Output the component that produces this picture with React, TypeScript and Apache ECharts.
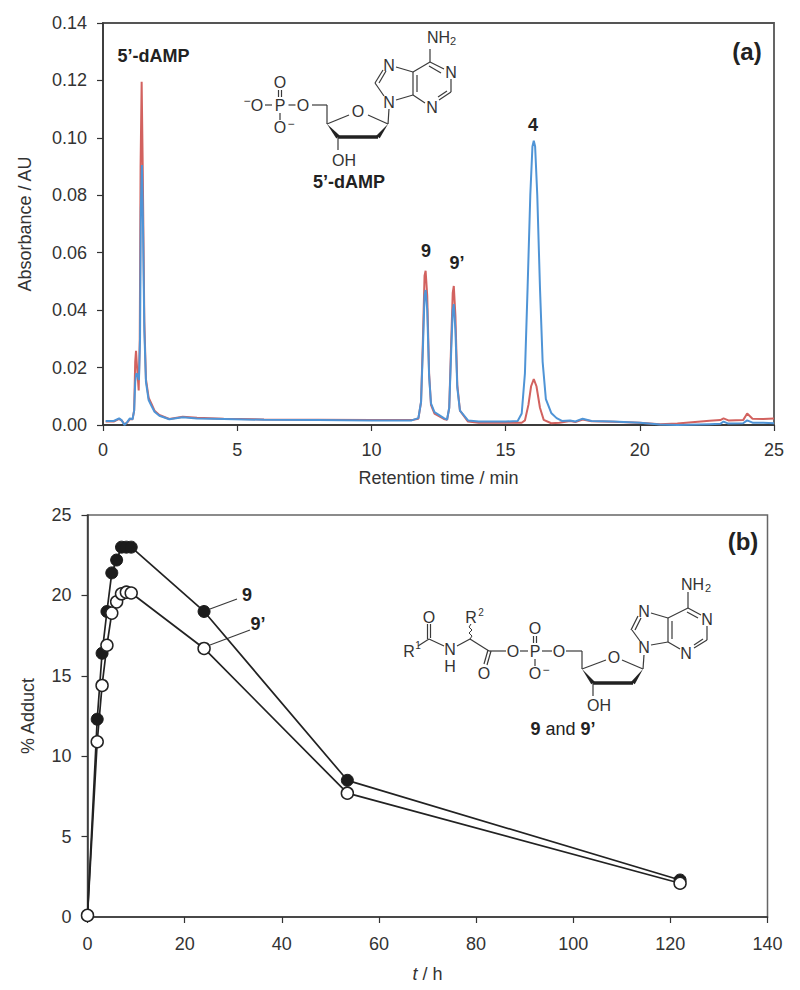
import React, { useEffect, useRef } from "react";
import * as echarts from "echarts";

const FONT = "Liberation Sans";
const INK = "#333333";

const redTrace = [
  [0.1,0.0012],[0.4,0.0012],[0.6,0.0021],[0.7,0.0015],[0.8,0.0002],[0.9,0.0008],[1.0,0.002],[1.1,0.002],[1.16,0.005],[1.2,0.022],[1.23,0.0258],[1.27,0.02],[1.33,0.012],[1.37,0.03],[1.4,0.09],[1.44,0.1195],[1.48,0.09],[1.54,0.036],[1.6,0.016],[1.7,0.0095],[1.8,0.0075],[1.92,0.005],[2.1,0.0035],[2.47,0.0021],[2.97,0.0029],[3.5,0.0025],[4.5,0.0022],[6,0.0019],[8,0.0018],[10,0.0017],[11.5,0.0017],[11.75,0.0022],[11.85,0.008],[11.92,0.03],[11.98,0.052],[12.02,0.0537],[12.08,0.045],[12.15,0.018],[12.22,0.007],[12.35,0.004],[12.7,0.0021],[12.82,0.0018],[12.9,0.006],[12.97,0.028],[13.03,0.046],[13.07,0.0484],[13.13,0.038],[13.2,0.014],[13.3,0.005],[13.6,0.0012],[14,0.0008],[15,0.0008],[15.6,0.0008],[15.72,0.0016],[15.85,0.007],[15.95,0.0135],[16.05,0.016],[16.15,0.0135],[16.28,0.006],[16.42,0.0018],[16.7,0.0006],[17,0.0008],[17.4,0.0014],[17.6,0.001],[17.87,0.0019],[18.2,0.0013],[19,0.0011],[20,0.0008],[20.75,0.0003],[21.4,0.0005],[22.6,0.0015],[23,0.0017],[23.12,0.0023],[23.3,0.0016],[23.85,0.0017],[24,0.004],[24.2,0.0022],[24.6,0.0021],[25,0.0023],
];

const blueTrace = [
  [0.1,0.0014],[0.4,0.0014],[0.6,0.0023],[0.7,0.0016],[0.8,0],[0.9,0.001],[1.0,0.0023],[1.1,0.002],[1.16,0.005],[1.2,0.015],[1.24,0.018],[1.29,0.0175],[1.34,0.0157],[1.38,0.03],[1.41,0.075],[1.45,0.0905],[1.49,0.07],[1.54,0.033],[1.6,0.015],[1.7,0.0087],[1.8,0.0068],[1.92,0.0046],[2.1,0.0032],[2.47,0.002],[2.97,0.0027],[3.5,0.0023],[4.5,0.0021],[6,0.0018],[8,0.0017],[10,0.0016],[11.5,0.0016],[11.75,0.0024],[11.85,0.008],[11.92,0.027],[11.98,0.045],[12.02,0.047],[12.08,0.04],[12.15,0.017],[12.22,0.0075],[12.35,0.0045],[12.7,0.0024],[12.82,0.0019],[12.9,0.006],[12.97,0.025],[13.03,0.04],[13.07,0.0421],[13.13,0.033],[13.2,0.013],[13.3,0.005],[13.6,0.0016],[14,0.0012],[15,0.0012],[15.45,0.0014],[15.6,0.004],[15.72,0.018],[15.82,0.048],[15.92,0.08],[16.0,0.097],[16.05,0.099],[16.1,0.097],[16.18,0.08],[16.28,0.048],[16.38,0.022],[16.5,0.009],[16.7,0.0042],[16.9,0.0024],[17.1,0.0014],[17.4,0.0016],[17.6,0.0012],[17.87,0.0022],[18.2,0.0014],[19,0.0012],[20,0.0008],[20.75,0.0002],[21.4,0],[22.6,0.0003],[23,0.0004],[23.12,0.0012],[23.3,0.0005],[23.85,0.0006],[24,0.0016],[24.2,0.0008],[24.6,0.0008],[25,0.0006],
];

const hours = [0, 2, 3, 4, 5, 6, 7, 8, 9, 24, 53.5, 122];
const adduct9 = [0.1, 12.3, 16.4, 19.0, 21.4, 22.2, 23.0, 23.0, 23.0, 19.0, 8.5, 2.3];
const adduct9p = [0.1, 10.9, 14.4, 16.9, 18.9, 19.6, 20.1, 20.2, 20.15, 16.7, 7.7, 2.1];

const zip = (xs: number[], ys: number[]) => xs.map((x, i) => [x, ys[i]]);

const bond = (x1: number, y1: number, x2: number, y2: number, w = 1.2, stroke = "#3a3a3a") => ({
  type: "line", silent: true, shape: { x1, y1, x2, y2 }, style: { stroke, lineWidth: w },
});
const label = (x: number, y: number, text: string, fontSize = 16, fontWeight = "normal", align = "center", fill = INK) => ({
  type: "text", silent: true, x, y,
  style: { text, fontSize, fontWeight, fontFamily: FONT, fill, textAlign: align, textVerticalAlign: "middle" },
});
const wedge = (a: number[], b: number[], half = 2.2) => {
  const dx = b[0] - a[0], dy = b[1] - a[1], l = Math.hypot(dx, dy);
  const nx = (-dy / l) * half, ny = (dx / l) * half;
  return {
    type: "polygon", silent: true,
    shape: { points: [a, [b[0] + nx, b[1] + ny], [b[0] - nx, b[1] - ny]] },
    style: { fill: "#222222" },
  };
};

const moleculeA = [
  label(257, 105, "O"), label(247, 101, "−", 12), label(280, 105, "P"), label(303, 105, "O"),
  label(280, 82, "O"), label(280, 127, "O"), label(291, 124, "−", 12),
  bond(265, 105, 272, 105), bond(288.5, 105, 295.5, 105), bond(278.5, 90, 278.5, 97), bond(281.5, 90, 281.5, 97), bond(280, 113, 280, 120),
  bond(312, 105, 327, 105), bond(327, 105, 327, 124), bond(327, 124, 349, 115), bond(368, 115, 388, 124),
  label(358, 111, "O"),
  wedge([327, 124], [338, 137]), bond(338, 137, 378, 137, 3.6, "#222222"), wedge([388, 124], [378, 137]),
  bond(338, 137, 338, 150), label(344, 160, "OH"),
  label(349, 182, "5’-dAMP", 18, "bold", "center", "#222222"),
  bond(388, 124, 389, 109), label(389, 102, "N"), label(389, 65, "N"), label(451, 72, "N"), label(432, 107, "N"),
  label(438.5, 37, "NH"), label(453, 41, "2", 11),
  bond(430, 49, 430, 62), bond(430, 62, 413, 72), bond(430, 62, 444, 69), bond(429, 66, 441, 73),
  bond(451, 79, 451, 92), bond(451, 92, 439, 100), bond(447, 91, 438, 97),
  bond(425, 103, 413, 95), bond(413, 95, 413, 72), bond(417, 92, 417, 75),
  bond(413, 72, 396, 67), bond(383, 70, 375, 83), bond(386, 71, 379, 83), bond(375, 83, 384, 96), bond(396, 100, 413, 95),
];

const moleculeB = [
  label(409, 651, "R"), label(418, 645, "1", 10), label(429, 617, "O"),
  bond(427.5, 624, 427.5, 639), bond(430.5, 624, 430.5, 638), bond(418, 646, 429, 639), bond(429, 639, 444, 646),
  label(450, 649, "N"), label(450, 666, "H"), bond(457, 646, 470, 639),
  { type: "polyline", silent: true, shape: { points: [[470, 639], [472, 636], [469, 633], [472, 630], [469, 627], [471, 624]] }, style: { stroke: "#3a3a3a", lineWidth: 1, fill: "none" } },
  label(471, 617, "R"), label(481, 612, "2", 10), bond(470, 639, 489, 651),
  bond(491, 651, 487, 665), bond(488, 650, 484, 664), label(484, 673, "O"),
  bond(489, 651, 506, 651), label(513, 651, "O"), bond(520, 651, 528, 651), label(535, 651, "P"),
  bond(533.5, 636, 533.5, 643), bond(536.5, 636, 536.5, 643), label(535, 628, "O"), bond(535, 659, 535, 666), label(535, 673, "O"), label(546, 670, "−", 12),
  bond(542, 651, 552, 651), label(559, 651, "O"), bond(566, 651, 582, 651), bond(582, 651, 582, 669),
  bond(582, 669, 606, 660), label(614, 657, "O"), bond(622, 660, 643, 669),
  wedge([582, 669], [593, 683]), bond(593, 683, 633, 683, 3.6, "#222222"), wedge([643, 669], [633, 683]),
  bond(593, 683, 593, 696), label(599, 705, "OH"),
  bond(643, 669, 644, 655), label(644, 647, "N"), label(644, 611, "N"), label(707, 619, "N"), label(686, 653, "N"),
  label(692.5, 584, "NH"), label(708, 588, "2", 11),
  bond(688, 592, 688, 608), bond(688, 608, 668, 618), bond(688, 608, 701, 615), bond(687, 612, 698, 618),
  bond(707, 626, 707, 640), bond(707, 640, 694, 648), bond(703, 639, 694, 645),
  bond(680, 649, 668, 642), bond(668, 642, 668, 618), bond(672, 639, 672, 621),
  bond(668, 618, 651, 613), bond(638, 616, 631, 630), bond(641, 618, 635, 630), bond(632, 630, 640, 641), bond(651, 645, 668, 642),
];

const annotations = [
  label(153.5, 56, "5’-dAMP", 18, "bold", "center", "#222222"),
  label(747, 51, "(a)", 24, "bold", "center", "#222222"),
  label(426, 251, "9", 18, "bold", "center", "#222222"),
  label(457, 263, "9’", 18, "bold", "center", "#222222"),
  label(533, 125, "4", 18, "bold", "center", "#222222"),
  label(743, 541, "(b)", 24, "bold", "center", "#222222"),
  label(247, 595, "9", 18, "bold", "center", "#222222"),
  label(258, 624, "9’", 18, "bold", "center", "#222222"),
  bond(210, 609, 237, 599, 1.2),
  bond(210, 645, 250, 630, 1.2),
  {
    type: "text", silent: true, x: 563, y: 729,
    style: {
      text: "{b|9} {n|and} {b|9’}", textAlign: "center", textVerticalAlign: "middle", fontFamily: FONT, fontSize: 18, fill: "#222222",
      rich: {
        b: { fontWeight: "bold", fontSize: 18, fontFamily: FONT, fill: "#222222" },
        n: { fontSize: 18, fontFamily: FONT, fill: "#222222" },
      },
    },
  },
];

const axisCommon = {
  axisLine: { show: true, onZero: false, lineStyle: { color: "#333333", width: 1.5 } },
  axisTick: { show: true, length: 6, lineStyle: { color: "#333333", width: 1.2 } },
  axisLabel: { color: INK, fontSize: 18, fontFamily: FONT },
  splitLine: { show: false },
  nameLocation: "middle" as const,
  nameTextStyle: { color: INK, fontSize: 18, fontFamily: FONT },
};

export default function App() {
  const ref = useRef<HTMLDivElement>(null);
  useEffect(() => {
    const chart = echarts.init(ref.current!, null, { renderer: "svg" });
    chart.setOption({
      animation: false,
      backgroundColor: "#ffffff",
      grid: [
        { left: 103, top: 23, width: 671, height: 402, show: true, borderColor: "#555555", borderWidth: 1.8, backgroundColor: "transparent" },
        { left: 87.5, top: 515, width: 680, height: 402, show: true, borderColor: "#666666", borderWidth: 1.5, backgroundColor: "transparent" },
      ],
      xAxis: [
        { ...axisCommon, type: "value", gridIndex: 0, min: 0, max: 25, interval: 5, name: "Retention time / min", nameGap: 44, axisLabel: { ...axisCommon.axisLabel, margin: 16 } },
        {
          ...axisCommon, type: "value", gridIndex: 1, min: 0, max: 140, interval: 20, name: "{i|t}{n| / h}", nameGap: 48, axisLabel: { ...axisCommon.axisLabel, margin: 18 },
          nameTextStyle: {
            ...axisCommon.nameTextStyle,
            rich: {
              i: { fontStyle: "italic", fontSize: 18, fontFamily: FONT, color: INK },
              n: { fontSize: 18, fontFamily: FONT, color: INK },
            },
          },
        },
      ],
      yAxis: [
        { ...axisCommon, type: "value", gridIndex: 0, min: 0, max: 0.14, interval: 0.02, name: "Absorbance / AU", nameGap: 69, axisLabel: { ...axisCommon.axisLabel, margin: 16, formatter: (v: number) => v.toFixed(2) } },
        { ...axisCommon, type: "value", gridIndex: 1, min: 0, max: 25, interval: 5, name: "% Adduct", nameGap: 51, axisLabel: { ...axisCommon.axisLabel, margin: 16 } },
      ],
      series: [
        { name: "red", type: "line", xAxisIndex: 0, yAxisIndex: 0, data: redTrace, showSymbol: false, lineStyle: { color: "#d2625f", width: 2 } },
        { name: "blue", type: "line", xAxisIndex: 0, yAxisIndex: 0, data: blueTrace, showSymbol: false, lineStyle: { color: "#4f94d6", width: 2 } },
        {
          name: "9", type: "line", xAxisIndex: 1, yAxisIndex: 1, data: zip(hours, adduct9), clip: false, symbol: "circle", symbolSize: 12, showAllSymbol: true,
          lineStyle: { color: "#222222", width: 1.7 }, itemStyle: { color: "#1c1c1c", borderColor: "#1c1c1c", borderWidth: 1 },
        },
        {
          name: "9’", type: "line", xAxisIndex: 1, yAxisIndex: 1, data: zip(hours, adduct9p), clip: false, symbol: "circle", symbolSize: 12, showAllSymbol: true,
          lineStyle: { color: "#222222", width: 1.7 }, itemStyle: { color: "#ffffff", borderColor: "#222222", borderWidth: 1.5 },
        },
      ],
      graphic: { elements: [...moleculeA, ...moleculeB, ...annotations] },
    });
    return () => chart.dispose();
  }, []);
  return <div ref={ref} style={{ position: "absolute", left: 0, top: 0, width: 800, height: 990 }} />;
}
